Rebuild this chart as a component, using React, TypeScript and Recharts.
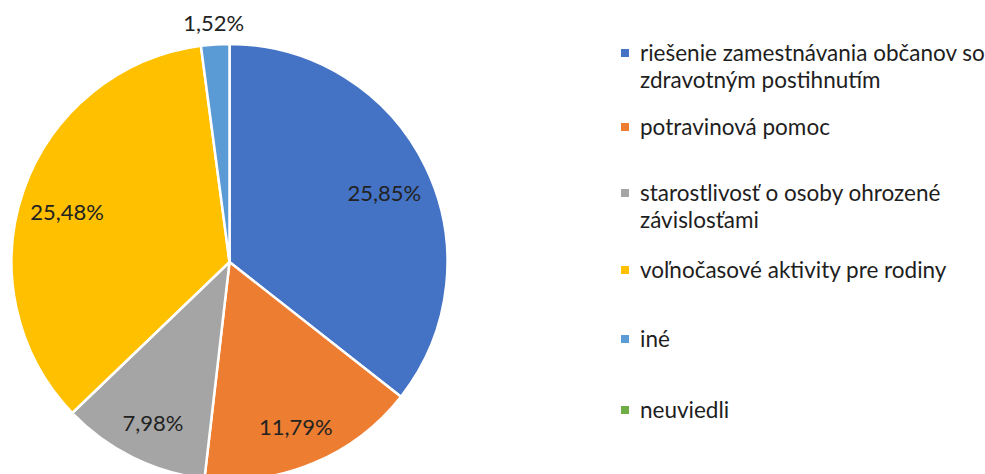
import { PieChart, Pie, Cell, Legend } from "recharts";

const CATEGORIES = [
  "riešenie zamestnávania občanov so zdravotným postihnutím",
  "potravinová pomoc",
  "starostlivosť o osoby ohrozené závislosťami",
  "voľnočasové aktivity pre rodiny",
  "iné",
  "neuviedli",
];
const VALUES = [25.85, 11.79, 7.98, 25.48, 1.52, 0];
const COLORS = ["#4472C4", "#ED7D31", "#A5A5A5", "#FFC000", "#5B9BD5", "#70AD47"];

const data = CATEGORIES.map((name, i) => ({ name, value: VALUES[i] }));

const FONT = "Lato, 'Open Sans', sans-serif";
const RAD = Math.PI / 180;
// legend rows sit at these y offsets (from the legend box top)
const LEGEND_TOPS = [0, 74, 140, 217, 286, 357];

const fmt = (v: number) => v.toFixed(2).replace(".", ",") + "%";

function renderLabel(props: any) {
  const { cx, cy, midAngle, outerRadius, value, index } = props;
  if (!value) return null;
  const outside = value < 3;
  const r = outside ? outerRadius + 22 : outerRadius * 0.79;
  const x = cx + r * Math.cos(-midAngle * RAD);
  const y = cy + r * Math.sin(-midAngle * RAD) + (outside ? 0 : 6);
  return (
    <text
      key={`lbl-${index}`}
      x={x}
      y={y}
      textAnchor="middle"
      dominantBaseline="central"
      fill="#222"
      fontSize={22}
      fontFamily={FONT}
    >
      {fmt(value)}
    </text>
  );
}

function LegendContent() {
  return (
    <div style={{ position: "relative", width: 364, height: 420, fontFamily: FONT }}>
      {data.map((d, i) => (
        <div
          key={d.name}
          style={{
            position: "absolute",
            top: LEGEND_TOPS[i],
            left: 0,
            width: 364,
            display: "flex",
            alignItems: "flex-start",
          }}
        >
          <span
            style={{
              display: "inline-block",
              width: 8,
              height: 8,
              background: COLORS[i],
              marginTop: 10,
              marginRight: 11,
              flexShrink: 0,
            }}
          />
          <span style={{ fontSize: 22.5, lineHeight: "27px", color: "#1e1e1e", width: 345 }}>{d.name}</span>
        </div>
      ))}
    </div>
  );
}

export default function App() {
  return (
    <div style={{ position: "absolute", left: 0, top: 0, width: 985, height: 474, background: "#fff" }}>
      <PieChart width={985} height={474} margin={{ top: 0, right: 0, bottom: 0, left: 0 }}>
        <Pie
          data={data}
          dataKey="value"
          nameKey="name"
          cx={229.5}
          cy={262}
          outerRadius={218}
          startAngle={90}
          endAngle={-270}
          stroke="#fff"
          strokeWidth={2.5}
          label={renderLabel}
          labelLine={false}
          isAnimationActive={false}
        >
          {data.map((d, i) => (
            <Cell key={`cell-${i}`} fill={COLORS[i]} />
          ))}
        </Pie>
        <Legend
          layout="vertical"
          verticalAlign="top"
          align="right"
          content={<LegendContent />}
          wrapperStyle={{ left: 621, top: 39, width: 364 }}
        />
      </PieChart>
    </div>
  );
}
